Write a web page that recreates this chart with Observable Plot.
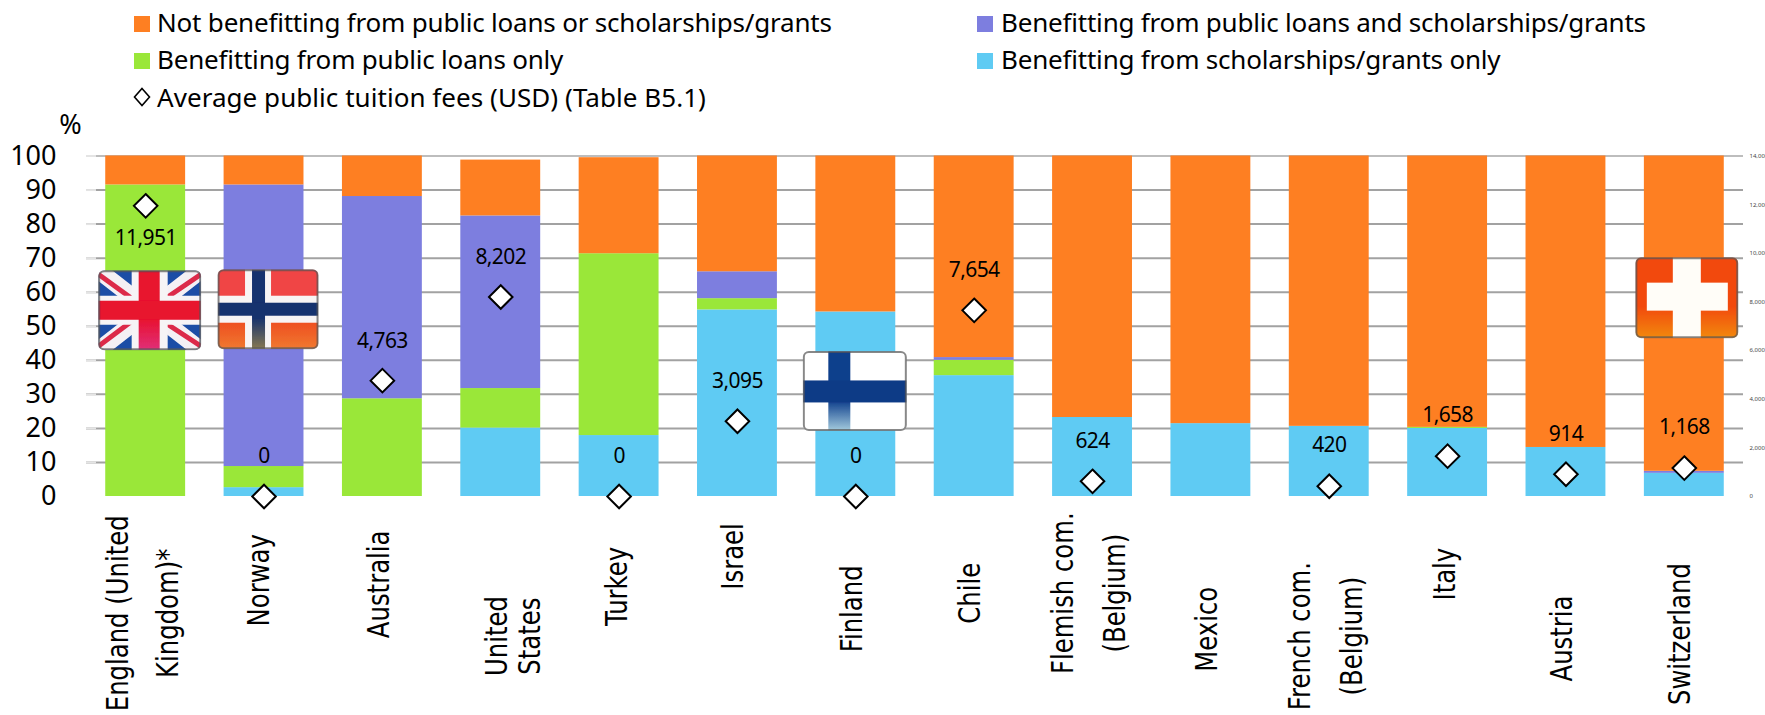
<!DOCTYPE html>
<html><head><meta charset="utf-8">
<script src="https://cdn.jsdelivr.net/npm/d3@7"></script>
<script src="https://cdn.jsdelivr.net/npm/@observablehq/plot@0.6"></script>
<style>
html,body{margin:0;padding:0;background:#fff;width:1765px;height:715px;overflow:hidden}
#legend{position:relative;height:100px;width:1765px;font-family:"Noto Sans",sans-serif;font-size:26px;color:#000;letter-spacing:-0.2px}
#legend .t{position:absolute;white-space:nowrap;line-height:36px}
#legend .s{position:absolute;width:16px;height:16px}
#legend svg{position:absolute}
#chart svg{display:block}
</style></head><body>
<div id="legend"></div>
<div id="chart"></div>
<script>
const countries = ["England (United Kingdom)*","Norway","Australia","United States","Turkey","Israel","Finland","Chile","Flemish com. (Belgium)","Mexico","French com. (Belgium)","Italy","Austria","Switzerland"];
const seriesNames = ["Benefitting from scholarships/grants only","Benefitting from public loans only","Benefitting from public loans and scholarships/grants","Not benefitting from public loans or scholarships/grants"];
const scholarshipsOnly = [0,2.6,0,20.1,17.9,54.8,54.2,35.5,23.2,21.4,20.6,20,14.4,6.8];
const loansOnly        = [91.5,6.2,28.7,11.6,53.4,3.3,0,4.5,0,0,0,0.3,0,0];
const loansAndGrants   = [0,82.7,59.4,50.7,0,7.9,0,0.8,0,0,0,0,0,0.6];
const notBenefitting   = [8.5,8.5,11.9,16.4,28.2,34,45.8,59.2,76.8,78.6,79.4,79.7,85.6,92.6];
const fees = [11951,0,4763,8202,0,3095,0,7654,624,null,420,1658,914,1168];
const yTicks = [0,10,20,30,40,50,60,70,80,90,100];
const feeTicks = [0,2000,4000,6000,8000,10000,12000,14000];
const feeMax = 14000;
const feeLabel = "Average public tuition fees (USD) (Table B5.1)";
const colors = ["#5FCBF3","#9AE739","#7D7EDF","#FE7F22"];

// Placement of the annotations, apart from the values
const feeLabelAt = [75.7,11.8,45.7,70.2,11.8,33.8,11.8,66.5,16.2,null,15,23.8,18.4,20.3];
const axisLines = [
  ["England (United",0,-28,-34.3],["Kingdom)*",0,22,-34.3],
  ["Norway",1,-4.5,-24.6],["Australia",2,-3.7,-25.8],
  ["United",3,-4,-41],["States",3,29,-41],
  ["Turkey",4,-2,-26.4],["Israel",5,-4,-17.6],["Finland",6,-4,-33],["Chile",7,-4,-28.4],
  ["Flemish com.",8,-29,-28.4],["(Belgium)",8,23,-28.4],
  ["Mexico",9,-4,-39],
  ["French com.",10,-29,-41],["(Belgium)",10,23,-41],
  ["Italy",11,-3,-22.8],["Austria",12,-3.5,-41.7],["Switzerland",13,-4,-40.4]
];

const table = [];
[scholarshipsOnly,loansOnly,loansAndGrants,notBenefitting].forEach((vals,s)=>{
  vals.forEach((v,i)=>{ if(v>0) table.push({country:countries[i],series:seriesNames[s],value:v}); });
});
const feeRows = countries.map((c,i)=>({country:c,fee:fees[i],at:feeLabelAt[i]})).filter(d=>d.fee!==null);

// Flags (pictures in the reference)
function flag(w,h,defs,body){
  const s=`<svg xmlns="http://www.w3.org/2000/svg" width="${w}" height="${h}" viewBox="0 0 ${w} ${h}"><defs><clipPath id="c"><rect x="1" y="1" width="${w-2}" height="${h-2}" rx="5"/></clipPath><filter id="soft" x="-5%" y="-5%" width="110%" height="110%"><feGaussianBlur stdDeviation="0.7"/></filter>${defs}</defs><g filter="url(#soft)"><g clip-path="url(#c)">${body}</g><rect x="1.5" y="1.5" width="${w-3}" height="${h-3}" rx="5" fill="none" stroke="#555" stroke-width="2" opacity=".7"/></g></svg>`;
  return "data:image/svg+xml;charset=utf-8,"+encodeURIComponent(s);
}
const ukFlag = flag(104,81,`<linearGradient id="f" x1="0" y1="0" x2="0" y2="1"><stop offset=".6" stop-color="#e8122e"/><stop offset="1" stop-color="#e0307a"/></linearGradient>`,
 `<rect width="104" height="81" fill="#1c4ea6"/>
  <path d="M0 0L104 81M104 0L0 81" stroke="#f4f0f4" stroke-width="17"/>
  <path d="M0 4L40 33M104 4L66 30M0 77L36 50M104 77L66 52" stroke="#dc2a4a" stroke-width="5"/>
  <rect x="34" width="36" height="81" fill="#f6f4f6"/><rect y="26" width="104" height="29" fill="#f6f4f6"/>
  <rect x="41" width="21" height="81" fill="url(#f)"/><rect y="31" width="104" height="19" fill="#e8122e"/>`);
const noFlag = flag(102,81,`<linearGradient id="b" x1="0" y1="0" x2="0" y2="1"><stop offset=".55" stop-color="#f04545"/><stop offset=".62" stop-color="#ee4a20"/><stop offset="1" stop-color="#f07a30"/></linearGradient><linearGradient id="v" x1="0" y1="0" x2="0" y2="1"><stop offset=".6" stop-color="#15306e"/><stop offset="1" stop-color="#8a7a50"/></linearGradient>`,
 `<rect width="102" height="81" fill="url(#b)"/>
  <rect x="28" width="26" height="81" fill="#f8f4f4"/><rect y="27" width="102" height="27" fill="#f8f4f4"/>
  <rect x="35" width="13" height="81" fill="url(#v)"/><rect y="34" width="102" height="13" fill="#15306e"/>`);
const fiFlag = flag(105,81,`<linearGradient id="v" x1="0" y1="0" x2="0" y2="1"><stop offset=".62" stop-color="#0f3f8c"/><stop offset="1" stop-color="#a8cfe0"/></linearGradient>`,
 `<rect width="105" height="81" fill="#fff"/>
  <rect x="26" width="22" height="81" fill="url(#v)"/><rect y="30" width="105" height="22" fill="#0f3a86"/>`);
const chFlag = flag(104,82,`<linearGradient id="b" x1="0" y1="0" x2="0" y2="1"><stop offset=".6" stop-color="#f2480f"/><stop offset="1" stop-color="#f28a0a"/></linearGradient>`,
 `<rect width="104" height="82" fill="url(#b)"/>
  <rect x="38" width="28" height="82" fill="#fffdf8"/><rect x="12" y="26" width="81" height="28" fill="#fffdf8"/>`);
const flags = [
  {country:countries[0],at:54.7,src:ukFlag,w:104,h:81,dx:4},
  {country:countries[1],at:55,src:noFlag,w:102,h:81,dx:4},
  {country:countries[6],at:31,src:fiFlag,w:105,h:81,dx:-1},
  {country:countries[13],at:58.4,src:chFlag,w:104,h:82,dx:2.5}
];

const bandX = {domain:countries,paddingInner:0.325,paddingOuter:0.1625,align:0.5,round:false,axis:null};
const chart = Plot.plot({
  width:1765,height:615,marginTop:55.5,marginBottom:219,marginLeft:86,marginRight:22,
  style:{fontFamily:'"Noto Sans",sans-serif',background:"#fff",color:"#000",overflow:"visible"},
  x:bandX,
  y:{domain:[0,100],axis:null},
  color:{domain:seriesNames,range:colors},
  marks:[
    Plot.ruleY(yTicks.filter(d=>d>0&&d<100),{stroke:"#a2a2a2",strokeWidth:2}),
    Plot.ruleY([100],{stroke:"#bdbdbd",strokeWidth:2}),
    Plot.axisY({ticks:yTicks.filter(d=>d>0),tickSize:-10,text:null,label:null,stroke:"#e4e4e4",strokeWidth:2,strokeOpacity:1}),
    Plot.barY(table,{x:"country",y:"value",fill:"series",order:seriesNames}),
    Plot.axisY({ticks:yTicks,tickSize:0,tickPadding:30,fontSize:27,label:null,fill:"#000"}),
    Plot.axisY({anchor:"right",ticks:feeTicks.map(d=>d/feeMax*100),tickFormat:d=>d3.format(",")(Math.round(d*feeMax/100)),tickSize:0,tickPadding:6,fontSize:6,label:null,fill:"#444"}),
    Plot.text(["%"],{frameAnchor:"top-left",dx:-16,dy:-31,fontSize:27,textAnchor:"middle",lineAnchor:"middle"}),
    ...flags.map(f=>Plot.image([f],{x:"country",y:"at",src:"src",width:f.w,height:f.h,dx:f.dx})),
    Plot.dot(feeRows,{x:"country",y:d=>d.fee/feeMax*100,symbol:"diamond2",r:10.6,fill:"#fff",stroke:"#000",strokeWidth:2}),
    Plot.text(feeRows,{x:"country",y:"at",text:d=>d3.format(",")(d.fee),fontSize:21,fill:"#000",className:"val"}),
    ...axisLines.map(([t,i,dx,at])=>Plot.text([t],{x:()=>countries[i],y:()=>at,dx,rotate:-90,textAnchor:"middle",fontSize:31,fontFamily:'"DejaVu Sans"',fill:"#000",className:"cat"}))
  ]
});
d3.select(chart).selectAll(".cat text").attr("transform",function(){return this.getAttribute("transform")+" scale(0.785,1)";});
d3.select(chart).selectAll(".val text").style("letter-spacing","-0.6px");
document.getElementById("chart").appendChild(chart);

// Legend
const legend = document.getElementById("legend");
const rows = [
  {i:3,sx:134,tx:157,sy:16,ty:4},
  {i:1,sx:134,tx:157,sy:53,ty:41},
  {i:2,sx:977,tx:1001,sy:16,ty:4},
  {i:0,sx:977,tx:1001,sy:53,ty:41}
];
rows.forEach(r=>{
  const s=document.createElement("div");s.className="s";
  s.style.cssText=`left:${r.sx}px;top:${r.sy}px;background:${colors[r.i]}`;legend.appendChild(s);
  const t=document.createElement("div");t.className="t";t.textContent=seriesNames[r.i];
  t.style.cssText=`left:${r.tx}px;top:${r.ty}px`;legend.appendChild(t);
});
legend.insertAdjacentHTML("beforeend",`<svg style="left:133px;top:87px" width="18" height="20"><path d="M9 1.5L16.5 10L9 18.5L1.5 10Z" fill="#fff" stroke="#000" stroke-width="1.6"/></svg>`);
const ft=document.createElement("div");ft.className="t";ft.textContent=feeLabel;ft.style.cssText="left:157px;top:79px;letter-spacing:0.05px";legend.appendChild(ft);
</script>
</body></html>
